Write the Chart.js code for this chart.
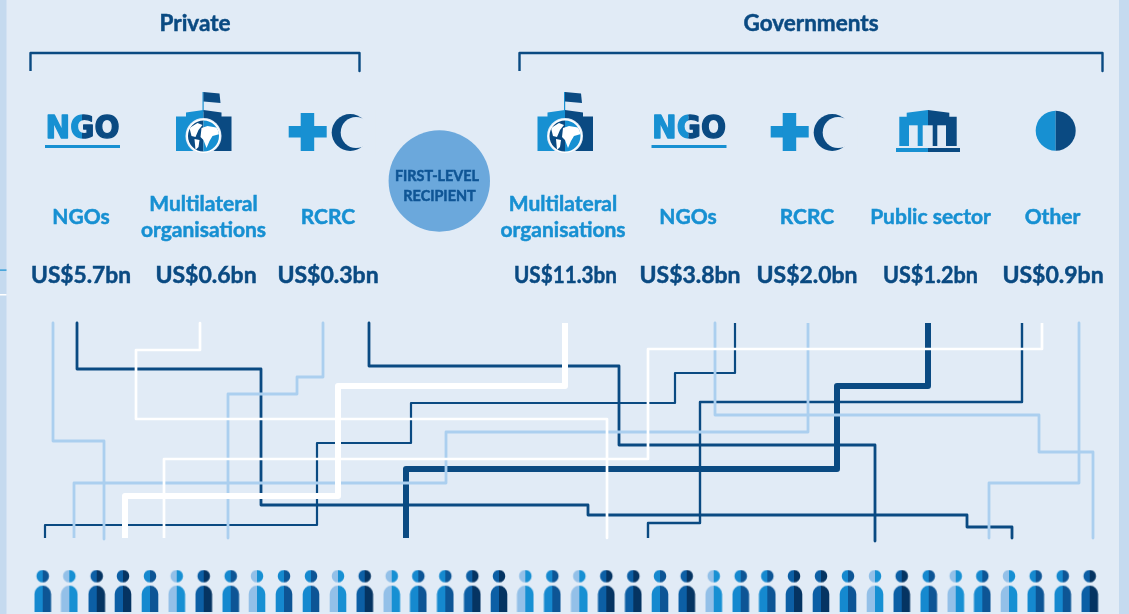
<!DOCTYPE html>
<html>
<head>
<meta charset="utf-8">
<title>First-level recipients</title>
<script src="https://cdn.jsdelivr.net/npm/chart.js@4/dist/chart.umd.min.js"></script>
<style>
  html, body { margin: 0; padding: 0; background: #e1ebf6; overflow: hidden; }
  canvas { display: block; }
</style>
</head>
<body>
<canvas id="flowChart" width="1129" height="614"></canvas>
<script>
// donor groups and amounts
const groupNames = ['Private', 'Governments'];
const recipientNames = ['NGOs', 'Multilateral\norganisations', 'RCRC', 'Multilateral\norganisations', 'NGOs', 'RCRC', 'Public sector', 'Other'];
const recipientValues = ['US$5.7bn', 'US$0.6bn', 'US$0.3bn', 'US$11.3bn', 'US$3.8bn', 'US$2.0bn', 'US$1.2bn', 'US$0.9bn'];

// routes from recipient down to people
const routeA = [[53, 323], [53, 441], [104, 441], [104, 539]];
const routeB = [[77, 323], [77, 369], [261, 369], [261, 505], [588, 505], [588, 515], [967, 515], [967, 527], [1012, 527], [1012, 538]];
const routeC = [[200, 323], [200, 350], [136, 350], [136, 419], [607, 419], [607, 538]];
const routeD = [[323, 323], [323, 377], [297, 377], [297, 394], [228, 394], [228, 538]];
const routeE = [[164, 538], [164, 459], [648, 459], [648, 349], [1042, 349], [1042, 323]];
const routeF = [[74, 538], [74, 483], [446, 483], [446, 432], [808, 432], [808, 323]];
const routeG = [[125, 538], [125, 496], [338, 496], [338, 386], [565, 386], [565, 323]];
const routeH = [[45, 538], [45, 525], [317, 525], [317, 443], [411, 443], [411, 403], [675, 403], [675, 373], [735, 373], [735, 323]];
const routeI = [[369, 323], [369, 366], [619, 366], [619, 445], [875, 445], [875, 541]];
const routeJ = [[406, 538], [406, 469], [837, 469], [837, 386], [928, 386], [928, 323]];
const routeK = [[648, 538], [648, 523], [700, 523], [700, 402], [1022, 402], [1022, 323]];
const routeL = [[715, 323], [715, 415], [1039, 415], [1039, 452], [1093, 452], [1093, 538]];
const routeM = [[1079, 323], [1079, 483], [989, 483], [989, 538]];

const personX = [42.7, 69.3, 96.7, 123, 150, 176.7, 203.7, 230.7, 257, 284, 311, 338, 364.7,
  391.7, 418.3, 445.3, 472.3, 499, 525.3, 552.3, 579.3, 606.3, 633.3, 660, 686.7, 713.7, 740.7,
  767.3, 794, 821, 848, 875, 901.7, 928.7, 955.7, 982.3, 1009, 1035.7, 1062.7, 1089.7];
const personKind = ['mid', 'light', 'dark', 'dark', 'mid', 'light', 'dark', 'mid', 'light', 'mid', 'mid', 'light', 'dark',
  'light', 'mid', 'mid', 'dark', 'dark', 'light', 'mid', 'light', 'dark', 'dark', 'mid', 'dark', 'light', 'mid',
  'mid', 'dark', 'dark', 'mid', 'light', 'dark', 'mid', 'light', 'mid', 'light', 'mid', 'mid', 'dark'];

const BG = '#e1ebf6';
const STRIP = '#c5daef';
const DARK = '#0a4a82';
const BLUE = '#1790d2';
const LIGHT = '#abcfef';
const WHITE = '#ffffff';
const FONT = 'Lato, sans-serif';

const line = (points, color, width) => ({
  data: points.map(p => ({ x: p[0], y: p[1] })),
  showLine: true,
  borderColor: color,
  borderWidth: width,
  borderJoinStyle: 'round',
  pointRadius: 0
});

// little people drawn once per colour, used as point styles
const makePerson = (left, right) => {
  const c = document.createElement('canvas');
  c.width = 18;
  c.height = 42;
  const g = c.getContext('2d');
  const shape = () => {
    g.beginPath();
    g.arc(9, 6.5, 6.3, 0, Math.PI * 2);
    g.closePath();
    g.moveTo(0.7, 42);
    g.lineTo(0.7, 24.3);
    g.arc(9, 24.3, 8.3, Math.PI, 0);
    g.lineTo(17.3, 42);
    g.closePath();
  };
  g.save();
  shape();
  g.clip();
  g.fillStyle = left;
  g.fillRect(0, 0, 9, 42);
  g.fillStyle = right;
  g.fillRect(9, 0, 9, 42);
  g.restore();
  return c;
};
const sprites = {
  mid: makePerson('#1589cf', '#0d5595'),
  light: makePerson('#93c0e8', '#1790d3'),
  dark: makePerson('#0c5fa5', '#053462')
};

const poly = (ctx, pts, color) => {
  ctx.fillStyle = color;
  ctx.beginPath();
  pts.forEach((p, i) => (i ? ctx.lineTo(p[0], p[1]) : ctx.moveTo(p[0], p[1])));
  ctx.closePath();
  ctx.fill();
};

const drawNgo = (ctx, x) => {
  const word = color => {
    ctx.translate(x + 0.5, 137.5);
    ctx.scale(74 / w, 1);
    ctx.fillStyle = color;
    ctx.strokeStyle = color;
    ctx.lineWidth = 1.4;
    ctx.lineJoin = 'round';
    ctx.fillText('NGO', 0, 0);
    ctx.strokeText('NGO', 0, 0);
  };
  ctx.save();
  ctx.font = '700 32px "DejaVu Sans", sans-serif';
  ctx.textAlign = 'left';
  ctx.textBaseline = 'alphabetic';
  const w = ctx.measureText('NGO').width;
  const split = x + 37;
  ctx.save();
  ctx.beginPath();
  ctx.rect(x - 3, 100, split - x + 3, 42);
  ctx.clip();
  word(BLUE);
  ctx.restore();
  ctx.beginPath();
  ctx.rect(split, 100, 60, 42);
  ctx.clip();
  word(DARK);
  ctx.restore();
  ctx.fillStyle = BLUE;
  ctx.fillRect(x, 145, 75, 3);
};

const drawGlobeHouse = (ctx, x) => {
  // x is the middle of the building
  ctx.fillStyle = BLUE;
  ctx.fillRect(x - 1, 92, 1.2, 20);
  poly(ctx, [[x, 92], [x + 16, 93.5], [x + 17, 103], [x, 101.5]], DARK);
  poly(ctx, [[x - 27.5, 151], [x - 27.5, 116.5], [x - 17.5, 116.5], [x - 17.5, 112.5], [x, 110], [x, 151]], BLUE);
  poly(ctx, [[x + 28, 151], [x + 28, 116.5], [x + 18, 116.5], [x + 18, 112.5], [x, 110], [x, 151]], DARK);
  ctx.fillStyle = BG;
  ctx.beginPath();
  ctx.arc(x, 136, 18, 0, Math.PI * 2);
  ctx.fill();
  ctx.fillStyle = WHITE;
  ctx.beginPath();
  ctx.arc(x, 136, 17, 0, Math.PI * 2);
  ctx.fill();
  ctx.save();
  ctx.beginPath();
  ctx.arc(x, 136, 15.5, 0, Math.PI * 2);
  ctx.clip();
  ctx.fillStyle = DARK;
  ctx.fillRect(x - 16, 120, 16, 32);
  ctx.fillStyle = BLUE;
  ctx.fillRect(x, 120, 16, 32);
  poly(ctx, [[x - 14, 128], [x - 6, 123], [x - 1, 125], [x - 5, 130], [x - 8, 137], [x - 12, 136]], WHITE);
  poly(ctx, [[x - 9, 139], [x - 4, 140], [x - 5, 147], [x - 8, 150]], WHITE);
  poly(ctx, [[x - 2, 128], [x + 4, 126], [x + 16, 128], [x + 16, 134], [x + 9, 136], [x + 6, 141], [x + 3, 148], [x, 140], [x - 3, 137]], WHITE);
  ctx.restore();
};

const drawRedCross = (ctx, x) => {
  // x is the left end of the cross
  ctx.fillStyle = BLUE;
  ctx.fillRect(x, 126, 38, 11.5);
  ctx.fillRect(x + 12, 113, 13.5, 38);
  ctx.fillStyle = DARK;
  ctx.beginPath();
  ctx.arc(x + 61.5, 132.5, 18.5, 0, Math.PI * 2);
  ctx.fill();
  ctx.fillStyle = BG;
  ctx.beginPath();
  ctx.arc(x + 67.4, 132.5, 15.4, 0, Math.PI * 2);
  ctx.fill();
  // the open side of the moon
  ctx.fillRect(x + 75, 110, 12, 45);
};

const drawPublicHouse = (ctx, x) => {
  // x is the split line
  poly(ctx, [[x - 28.7, 146], [x - 28.7, 116.7], [x - 21.3, 116.7], [x - 21.3, 112.7], [x, 110], [x, 146]], BLUE);
  poly(ctx, [[x + 28.7, 146], [x + 28.7, 116.7], [x + 21.3, 116.7], [x + 21.3, 112.7], [x, 110], [x, 146]], DARK);
  ctx.fillStyle = BG;
  ctx.fillRect(x - 19, 125.3, 8.7, 21);
  ctx.fillRect(x - 5.3, 125.3, 10, 21);
  ctx.fillRect(x + 9.3, 125.3, 8.7, 21);
  ctx.fillStyle = BLUE;
  ctx.fillRect(x - 32, 148, 32, 4);
  ctx.fillStyle = DARK;
  ctx.fillRect(x, 148, 32, 4);
};

const drawHalfDisc = (ctx, x) => {
  ctx.fillStyle = BLUE;
  ctx.beginPath();
  ctx.arc(x, 130.7, 20, Math.PI / 2, Math.PI * 1.5);
  ctx.fill();
  ctx.fillStyle = DARK;
  ctx.beginPath();
  ctx.arc(x, 130.7, 20, -Math.PI / 2, Math.PI / 2);
  ctx.fill();
};

const backdrop = {
  id: 'backdrop',
  beforeDatasetsDraw(chart) {
    const { ctx } = chart;
    ctx.save();
    ctx.fillStyle = STRIP;
    ctx.fillRect(0, 0, 6.5, 614);
    ctx.fillRect(1119, 0, 10, 614);
    ctx.fillStyle = BLUE;
    ctx.fillRect(0, 269.5, 6.5, 1.2);
    ctx.fillStyle = WHITE;
    ctx.fillRect(0, 294, 6.5, 1.5);
    ctx.fillStyle = '#6ba8dc';
    ctx.beginPath();
    ctx.arc(439.3, 181, 50.7, 0, Math.PI * 2);
    ctx.fill();
    drawNgo(ctx, 45);
    drawNgo(ctx, 651.5);
    drawGlobeHouse(ctx, 203.5);
    drawGlobeHouse(ctx, 565);
    drawRedCross(ctx, 288.7);
    drawRedCross(ctx, 770.7);
    drawPublicHouse(ctx, 928);
    drawHalfDisc(ctx, 1055.7);
    ctx.restore();
  }
};

const labelSpots = [81, 203.5, 328, 563, 688, 807, 930.5, 1052.5];
const valueSpots = [81, 206, 328, 565.5, 690, 807, 930.5, 1053];
const valueWidths = [100, 102, 102, 103, 101, 101, 95, 102];
const titleSpots = [195, 811];

// fill plus a hairline stroke, the Lato bold is a bit light next to the original
const heavyText = (ctx, text, x, y, maxWidth) => {
  ctx.fillText(text, x, y, maxWidth);
  ctx.strokeStyle = ctx.fillStyle;
  ctx.lineWidth = 0.5;
  ctx.strokeText(text, x, y, maxWidth);
};

const captions = {
  id: 'captions',
  afterDatasetsDraw(chart) {
    const { ctx, scales } = chart;
    const x = v => scales.x.getPixelForValue(v);
    const y = v => scales.y.getPixelForValue(v);
    ctx.save();
    ctx.textAlign = 'center';
    ctx.textBaseline = 'middle';
    ctx.fillStyle = DARK;
    ctx.font = '700 22.5px ' + FONT;
    groupNames.forEach((t, i) => heavyText(ctx, t, x(titleSpots[i]), y(23.5)));
    ctx.font = '700 14.4px ' + FONT;
    ctx.fillStyle = '#0f5595';
    heavyText(ctx, 'FIRST-LEVEL', x(437), y(176));
    heavyText(ctx, 'RECIPIENT', x(439.5), y(196.5));
    ctx.fillStyle = BLUE;
    ctx.font = '700 21px ' + FONT;
    recipientNames.forEach((t, i) => {
      const rows = t.split('\n');
      if (rows.length === 2) {
        heavyText(ctx, rows[0], x(labelSpots[i]), y(204));
        heavyText(ctx, rows[1], x(labelSpots[i]), y(230));
      } else {
        heavyText(ctx, t, x(labelSpots[i]), y(217));
      }
    });
    ctx.fillStyle = DARK;
    ctx.font = '700 23px ' + FONT;
    recipientValues.forEach((t, i) => heavyText(ctx, t, x(valueSpots[i]), y(276), valueWidths[i]));
    ctx.restore();
  }
};

new Chart(document.getElementById('flowChart').getContext('2d'), {
  type: 'scatter',
  data: {
    // first dataset ends up on top
    datasets: [
      line(routeG, WHITE, 6),
      line(routeC, WHITE, 2.7),
      line(routeE, WHITE, 2.7),
      line(routeA, LIGHT, 2.8),
      line(routeD, LIGHT, 2.8),
      line(routeF, LIGHT, 2.8),
      line(routeL, LIGHT, 2.8),
      line(routeM, LIGHT, 2.8),
      line(routeJ, DARK, 6),
      line(routeB, DARK, 2.8),
      line(routeH, DARK, 2.2),
      line(routeI, DARK, 2.8),
      line(routeK, DARK, 2.4),
      line([[30.5, 71], [30.5, 53], [359.5, 53], [359.5, 71]], DARK, 2.4),
      line([[519.5, 71], [519.5, 53], [1102.5, 53], [1102.5, 71]], DARK, 2.4),
      {
        data: personX.map(v => ({ x: v, y: 590.6 })),
        showLine: false,
        pointRadius: 9,
        pointStyle: personKind.map(k => sprites[k])
      }
    ]
  },
  options: {
    responsive: false,
    animation: false,
    layout: { padding: 0, autoPadding: false },
    plugins: { legend: { display: false }, tooltip: { enabled: false } },
    scales: {
      x: { type: 'linear', min: 0, max: 1129, display: false },
      y: { type: 'linear', min: 0, max: 614, reverse: true, display: false }
    }
  },
  plugins: [backdrop, captions]
});
</script>
</body>
</html>
